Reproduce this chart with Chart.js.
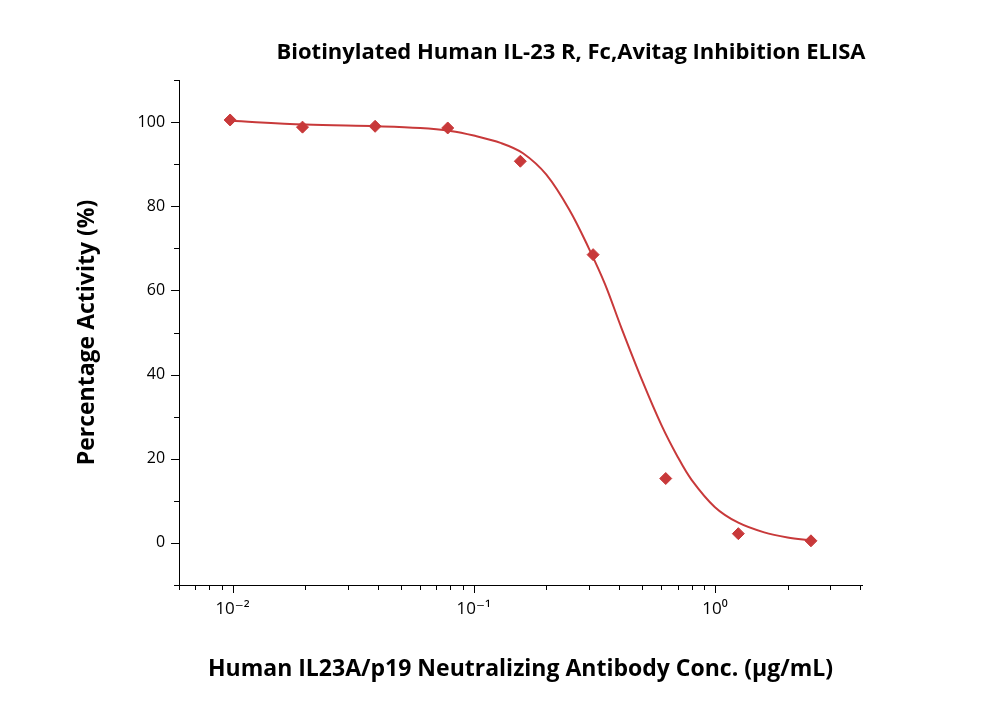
<!DOCTYPE html>
<html>
<head>
<meta charset="utf-8">
<script src="https://cdn.jsdelivr.net/npm/chart.js@4/dist/chart.umd.min.js"></script>
<style>
  body { margin: 0; background: #fff; }
  #wrap { width: 1000px; height: 702px; }
</style>
</head>
<body>
<div id="wrap"><canvas id="myChart"></canvas></div>
<script>
// measured points
const conc = [0.00977, 0.0195, 0.039, 0.078, 0.156, 0.3125, 0.625, 1.25, 2.5];
const activity = [100.5, 98.8, 99.0, 98.6, 90.7, 68.5, 15.3, 2.2, 0.5];

// fitted curve
const fitX = [0.0098, 0.02, 0.04, 0.06, 0.08, 0.1, 0.13, 0.16, 0.2, 0.25, 0.3, 0.35, 0.41, 0.5, 0.6, 0.7, 0.8, 1.0, 1.25, 1.6, 2.0, 2.5];
const fitY = [100.3, 99.4, 99.0, 98.6, 97.9, 96.8, 95.0, 92.6, 87.5, 79, 70, 61.5, 51, 38.5, 28, 20.5, 15, 8.5, 4.8, 2.5, 1.3, 0.6];

const xMajor = [0.01, 0.1, 1];
const xLabels = ['10⁻²', '10⁻¹', '10⁰'];
const yMajor = [0, 20, 40, 60, 80, 100];

const red = '#c8393a';
const font = 'Open Sans, DejaVu Sans, sans-serif';

// minor ticks and title
const extras = {
  id: 'extras',
  afterDraw(chart) {
    const ctx = chart.ctx, x = chart.scales.x, y = chart.scales.y;
    const area = chart.chartArea;
    ctx.save();
    ctx.strokeStyle = '#000';
    ctx.lineWidth = 1;
    ctx.beginPath();
    for (let v = -10; v <= 110; v += 10) {
      const py = Math.round(y.getPixelForValue(v)) + 0.5;
      if (py < area.top - 1 || py > area.bottom + 1) continue;
      const len = v % 20 === 0 ? 8 : 5;
      ctx.moveTo(area.left, py); ctx.lineTo(area.left - len, py);
    }
    for (let d = 0.001; d < 10; d *= 10) {
      for (let m = 1; m < 10; m++) {
        const v = d * m;
        if (v < x.min || v > x.max) continue;
        const px = Math.round(x.getPixelForValue(v)) + 0.5;
        const len = m === 1 ? 8 : 5;
        ctx.moveTo(px, area.bottom); ctx.lineTo(px, area.bottom + len);
      }
    }
    ctx.stroke();
    ctx.fillStyle = '#000';
    ctx.font = 'bold 22px ' + font;
    ctx.textAlign = 'center';
    ctx.textBaseline = 'middle';
    ctx.fillText('Biotinylated Human IL-23 R, Fc,Avitag Inhibition ELISA', 571, 53);
    ctx.restore();
  }
};

const config = {
  type: 'scatter',
  data: {
    datasets: [{
      type: 'line',
      data: fitX.map((v, i) => ({ x: v, y: fitY[i] })),
      borderColor: red,
      borderWidth: 2,
      pointRadius: 0,
      tension: 0.35
    }, {
      data: conc.map((v, i) => ({ x: v, y: activity[i] })),
      backgroundColor: red,
      borderColor: red,
      pointStyle: 'rectRot',
      pointRadius: 6
    }]
  },
  options: {
    responsive: false,
    animation: false,
    layout: { padding: { left: 70, right: 138, top: 80, bottom: 15 } },
    plugins: { legend: { display: false }, tooltip: { enabled: false } },
    scales: {
      x: {
        type: 'logarithmic',
        min: 0.006, max: 4.07,
        afterBuildTicks: s => { s.ticks = xMajor.map(v => ({ value: v })); },
        ticks: {
          callback: (v) => xLabels[xMajor.indexOf(v)] || '',
          color: '#000', font: { size: 17, family: font }, padding: 14, maxRotation: 0
        },
        grid: { display: false, drawTicks: false },
        border: { color: '#000', width: 1 },
        title: { display: true, text: 'Human IL23A/p19 Neutralizing Antibody Conc. (μg/mL)',
          color: '#000', font: { size: 23, weight: 'bold', family: font }, padding: { top: 22 } }
      },
      y: {
        min: -10, max: 110,
        afterBuildTicks: s => { s.ticks = yMajor.map(v => ({ value: v })); },
        ticks: { color: '#000', font: { size: 16, family: font }, padding: 14 },
        grid: { display: false, drawTicks: false },
        border: { color: '#000', width: 1 },
        title: { display: true, text: 'Percentage Activity (%)',
          color: '#000', font: { size: 23, weight: 'bold', family: font }, padding: { bottom: 22 } }
      }
    }
  },
  plugins: [extras]
};

const canvas = document.getElementById('myChart');
canvas.width = 1000; canvas.height = 702;
const myChart = new Chart(canvas, config);
</script>
</body>
</html>
